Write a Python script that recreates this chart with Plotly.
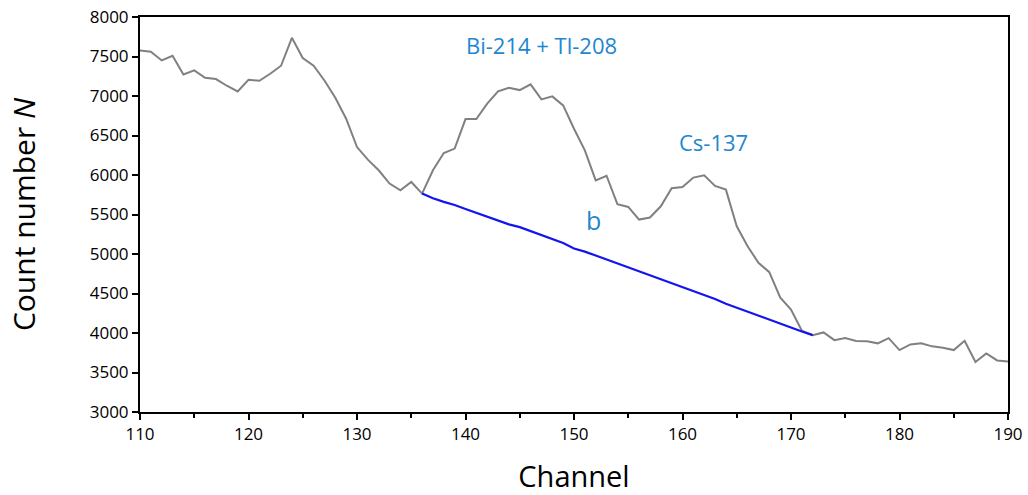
import plotly.graph_objects as go

channels = list(range(110, 191))
counts = [7577, 7560, 7450, 7510, 7273, 7324, 7231, 7214, 7130, 7058,
          7206, 7193, 7282, 7383, 7737, 7480, 7383, 7197, 6978, 6713,
          6354, 6195, 6060, 5891, 5807, 5912, 5765, 6060, 6278, 6334,
          6708, 6708, 6903, 7058, 7105, 7075, 7147, 6957, 6995, 6881,
          6586, 6312, 5932, 5991, 5630, 5596, 5436, 5462, 5604, 5832,
          5849, 5967, 5996, 5862, 5815, 5351, 5099, 4888, 4770, 4450,
          4298, 4028, 3973, 4007, 3910, 3935, 3898, 3894, 3869, 3935,
          3784, 3856, 3869, 3831, 3813, 3784, 3902, 3632, 3742, 3653,
          3640]

base_channels = list(range(136, 173))
baseline = [5765, 5705, 5660, 5620, 5570, 5520, 5480, 5425, 5375, 5340,
            5290, 5240, 5190, 5140, 5070, 5030, 4980, 4930, 4880, 4830,
            4780, 4740, 4690, 4640, 4590, 4530, 4480, 4430, 4370, 4320,
            4270, 4220, 4160, 4110, 4070, 4020, 3973]

labels = [("Bi-214 + Tl-208", 147.0, 7640, 22),
          ("Cs-137", 162.85, 6415, 22),
          ("b", 151.8, 5430, 25)]

FONT = "Open Sans, Noto Sans, sans-serif"
ACCENT = "#1f86d0"

fig = go.Figure()
fig.add_trace(go.Scatter(x=channels, y=counts, mode="lines",
                         line=dict(color="#808080", width=2), showlegend=False))
fig.add_trace(go.Scatter(x=base_channels, y=baseline, mode="lines",
                         line=dict(color="#1414f0", width=2.2), showlegend=False))

for text, x, y, size in labels:
    fig.add_annotation(x=x, y=y, text=text, showarrow=False,
                       font=dict(family=FONT, size=size, color=ACCENT))

fig.update_layout(
    width=1028, height=495,
    margin=dict(l=140, r=20, t=17, b=83),
    plot_bgcolor="white", paper_bgcolor="white",
    font=dict(family=FONT, color="black"),
)
fig.update_xaxes(range=[110, 190], dtick=10, tick0=110, automargin=False,
                 showgrid=False, zeroline=False,
                 showline=True, linecolor="black", linewidth=2, mirror=True,
                 ticks="outside", ticklen=6, tickwidth=2, tickcolor="black",
                 minor=dict(dtick=5, ticks="outside", ticklen=4, tickwidth=2, tickcolor="black"),
                 tickfont=dict(size=17, family=FONT),
                 title=dict(text="Channel", font=dict(size=29, family=FONT), standoff=24))
fig.update_yaxes(range=[3000, 8000], dtick=500, automargin=False,
                 showgrid=False, zeroline=False,
                 showline=True, linecolor="black", linewidth=2, mirror=True,
                 ticks="outside", ticklen=6, tickwidth=2, tickcolor="black",
                 tickfont=dict(size=17, family=FONT),
                 title=dict(text="Count number <i>N</i>", font=dict(size=30, family=FONT), standoff=45))

fig.write_html("out.html", config={"displayModeBar": False},
               post_script="document.body.style.margin='0';")
